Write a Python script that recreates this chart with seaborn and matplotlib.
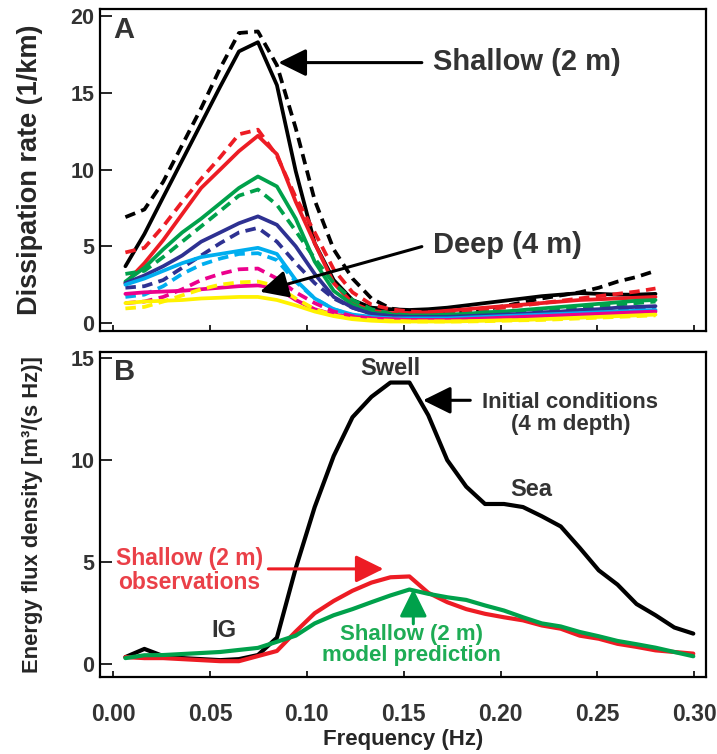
import numpy as np
import pandas as pd
import seaborn as sns
import matplotlib.pyplot as plt

# frequency bins (Hz)
freq_a = [0.0064, 0.0162, 0.0259, 0.0357, 0.0455, 0.0553, 0.0650, 0.0748, 0.0846, 0.0943,
          0.1041, 0.1139, 0.1236, 0.1334, 0.1432, 0.1530, 0.1627, 0.1725, 0.1823, 0.1920,
          0.2018, 0.2116, 0.2213, 0.2311, 0.2409, 0.2507, 0.2604, 0.2702, 0.2800]
freq_b = freq_a + [0.2897, 0.2995]

# Panel A: dissipation rate (1/km), solid = observed, dashed = model
black_obs = [3.7, 5.8, 8.2, 10.6, 13.0, 15.4, 17.7, 18.3, 15.5, 9.9, 5.2, 2.8, 1.5, 1.0, 0.9, 0.85,
             0.9, 1.0, 1.15, 1.3, 1.45, 1.6, 1.75, 1.85, 1.95, 1.9, 1.85, 1.85, 1.9]
black_mod = [6.9, 7.4, 9.2, 11.6, 14.0, 16.6, 18.9, 19.0, 16.8, 12.7, 8.0, 4.8, 2.9, 1.6, 0.95, 0.75,
             0.7, 0.7, 0.75, 0.9, 1.1, 1.35, 1.6, 1.8, 2.0, 2.3, 2.7, 3.0, 3.4]
red_obs = [2.6, 3.9, 5.4, 7.1, 8.8, 10.0, 11.2, 12.2, 11.0, 7.9, 5.2, 2.6, 1.3, 0.8, 0.65, 0.65,
           0.7, 0.8, 0.9, 1.0, 1.1, 1.2, 1.3, 1.4, 1.5, 1.55, 1.6, 1.65, 1.7]
red_mod = [4.6, 4.9, 6.3, 7.9, 9.4, 10.8, 12.3, 12.6, 10.9, 8.2, 5.9, 3.5, 2.0, 1.2, 0.9, 0.75,
           0.7, 0.7, 0.8, 0.9, 1.0, 1.15, 1.3, 1.45, 1.6, 1.75, 1.9, 2.05, 2.25]
green_obs = [2.7, 3.6, 4.8, 5.9, 6.8, 7.8, 8.8, 9.55, 8.9, 6.8, 4.0, 2.1, 1.2, 0.7, 0.55, 0.5,
             0.5, 0.55, 0.6, 0.7, 0.75, 0.85, 0.95, 1.05, 1.15, 1.25, 1.35, 1.45, 1.5]
green_mod = [3.2, 3.4, 4.3, 5.3, 6.3, 7.3, 8.3, 8.7, 7.7, 6.0, 4.2, 2.6, 1.5, 0.9, 0.6, 0.5,
             0.45, 0.45, 0.5, 0.55, 0.6, 0.7, 0.8, 0.9, 1.0, 1.1, 1.2, 1.3, 1.4]
navy_obs = [2.6, 3.1, 3.7, 4.4, 5.3, 5.9, 6.5, 6.95, 6.4, 5.0, 3.2, 1.7, 1.0, 0.6, 0.45, 0.4,
            0.4, 0.4, 0.45, 0.5, 0.55, 0.6, 0.7, 0.75, 0.85, 0.9, 1.0, 1.05, 1.1]
navy_mod = [2.3, 2.4, 2.8, 3.6, 4.4, 5.2, 5.9, 6.2, 5.3, 3.9, 2.6, 1.6, 1.0, 0.6, 0.45, 0.35,
            0.3, 0.3, 0.35, 0.4, 0.45, 0.5, 0.55, 0.6, 0.7, 0.75, 0.8, 0.9, 0.95]
cyan_obs = [2.5, 2.9, 3.4, 3.9, 4.3, 4.5, 4.7, 4.9, 4.5, 2.8, 1.6, 0.9, 0.55, 0.4, 0.3, 0.3,
            0.3, 0.3, 0.35, 0.4, 0.45, 0.5, 0.55, 0.6, 0.65, 0.7, 0.75, 0.8, 0.85]
cyan_mod = [1.7, 1.85, 2.4, 3.2, 3.8, 4.2, 4.5, 4.55, 4.1, 2.7, 1.6, 0.9, 0.5, 0.35, 0.3, 0.25,
            0.25, 0.25, 0.3, 0.35, 0.4, 0.45, 0.5, 0.55, 0.6, 0.65, 0.7, 0.75, 0.8]
pink_obs = [1.9, 2.0, 2.05, 2.1, 2.2, 2.3, 2.4, 2.45, 2.3, 1.5, 0.9, 0.55, 0.4, 0.3, 0.25, 0.2,
            0.2, 0.2, 0.25, 0.3, 0.35, 0.4, 0.45, 0.5, 0.55, 0.6, 0.65, 0.7, 0.75]
pink_mod = [1.3, 1.4, 1.7, 2.2, 2.8, 3.2, 3.5, 3.55, 2.9, 2.0, 1.3, 0.75, 0.45, 0.3, 0.2, 0.2,
            0.15, 0.15, 0.2, 0.25, 0.3, 0.35, 0.4, 0.45, 0.5, 0.55, 0.6, 0.65, 0.7]
yellow_obs = [1.3, 1.4, 1.45, 1.5, 1.6, 1.65, 1.7, 1.7, 1.5, 1.15, 0.75, 0.45, 0.25, 0.15, 0.1, 0.1,
              0.1, 0.1, 0.12, 0.15, 0.18, 0.2, 0.25, 0.3, 0.35, 0.4, 0.45, 0.5, 0.55]
yellow_mod = [0.95, 1.05, 1.4, 1.8, 2.2, 2.5, 2.65, 2.7, 2.4, 1.6, 0.9, 0.5, 0.3, 0.2, 0.15, 0.1,
              0.1, 0.1, 0.1, 0.12, 0.15, 0.18, 0.2, 0.25, 0.3, 0.35, 0.4, 0.45, 0.5]

# Panel B: energy flux density
flux_initial = [0.35, 0.75, 0.4, 0.3, 0.25, 0.2, 0.25, 0.45, 1.3, 4.7, 7.7, 10.2, 12.1, 13.1, 13.8, 13.8,
                12.2, 10.0, 8.7, 7.85, 7.85, 7.7, 7.25, 6.75, 5.7, 4.6, 3.9, 2.95, 2.4, 1.8, 1.5]
flux_obs = [0.35, 0.3, 0.3, 0.25, 0.2, 0.15, 0.15, 0.4, 0.65, 1.6, 2.5, 3.1, 3.6, 4.0, 4.26, 4.3,
            3.5, 3.04, 2.7, 2.47, 2.3, 2.15, 1.9, 1.74, 1.4, 1.25, 1.0, 0.85, 0.68, 0.6, 0.52]
flux_model = [0.3, 0.44, 0.45, 0.5, 0.55, 0.6, 0.7, 0.8, 1.1, 1.4, 2.0, 2.4, 2.7, 3.04, 3.37, 3.66,
              3.45, 3.28, 3.15, 2.88, 2.63, 2.3, 2.0, 1.85, 1.58, 1.37, 1.14, 0.98, 0.81, 0.6, 0.39]

sns.set_style("ticks")
plt.rcParams['font.family'] = ['Liberation Sans', 'DejaVu Sans']
plt.rcParams['font.weight'] = 'bold'

BLACK = '#000000'
RED = '#ed1c24'
GREEN = '#00a14b'
NAVY = '#2e3192'
CYAN = '#00aeef'
PINK = '#ec008c'
YELLOW = '#fff200'
GRAY = '#333333'

fig = plt.figure(figsize=(7.17, 7.54), dpi=100)
ax_a = fig.add_axes([0.1395, 0.561, 0.845, 0.427])
ax_b = fig.add_axes([0.1395, 0.102, 0.845, 0.431])

pairs = [(BLACK, black_obs, black_mod), (RED, red_obs, red_mod), (GREEN, green_obs, green_mod),
         (NAVY, navy_obs, navy_mod), (CYAN, cyan_obs, cyan_mod), (PINK, pink_obs, pink_mod),
         (YELLOW, yellow_obs, yellow_mod)]
for col, obs, mod in pairs:
    sns.lineplot(x=freq_a, y=obs, ax=ax_a, color=col, linewidth=2.7)
    sns.lineplot(x=freq_a, y=mod, ax=ax_a, color=col, linewidth=2.7, linestyle=(0, (2.8, 1.7)))

sns.lineplot(x=freq_b, y=flux_initial, ax=ax_b, color=BLACK, linewidth=3)
sns.lineplot(x=freq_b, y=flux_obs, ax=ax_b, color=RED, linewidth=3)
sns.lineplot(x=freq_b, y=flux_model, ax=ax_b, color=GREEN, linewidth=3)

for ax in (ax_a, ax_b):
    ax.set_xlim(-0.0067, 0.306)
    ax.set_xticks([0.0, 0.05, 0.10, 0.15, 0.20, 0.25, 0.30])
    for sp in ax.spines.values():
        sp.set_linewidth(1.6)
        sp.set_color('black')
    ax.tick_params(axis='y', direction='in', length=8.5, width=1.4, pad=4, labelsize=15.5,
                   labelcolor=GRAY)
    ax.tick_params(axis='x', direction='in', length=4.5, width=1.4)

ax_a.set_ylim(-0.52, 20.46)
ax_a.set_yticks([0, 5, 10, 15, 20])
ax_a.tick_params(axis='x', labelbottom=False)
ax_b.set_ylim(-0.63, 15.29)
ax_b.set_yticks([0, 5, 10, 15])
ax_b.set_xticklabels(['0.00', '0.05', '0.10', '0.15', '0.20', '0.25', '0.30'])
ax_b.tick_params(axis='x', pad=19, labelsize=16.5, labelcolor=GRAY)

ax_a.set_ylabel('Dissipation rate (1/km)', fontsize=19.5, fontweight='bold', labelpad=20)
ax_b.set_ylabel('Energy flux density [m³/(s Hz)]', fontsize=15.8, fontweight='bold', labelpad=20)
ax_b.set_xlabel('Frequency (Hz)', fontsize=16, fontweight='bold', labelpad=2)
fig.align_ylabels([ax_a, ax_b])

# panel A annotations
ax_a.text(0.04, 0.935, 'A', transform=ax_a.transAxes, fontsize=21, fontweight='bold',
          color=GRAY, ha='center', va='center')
arrow_kw = dict(arrowstyle='-|>,head_length=0.85,head_width=0.42', color='black', lw=2.2,
                mutation_scale=20, shrinkA=0, shrinkB=0)
ax_a.annotate('', xy=(0.0854, 16.97), xytext=(0.1594, 16.97), arrowprops=arrow_kw)
ax_a.text(0.1653, 17.0, 'Shallow (2 m)', fontsize=21, fontweight='bold', color=GRAY,
          ha='left', va='center')
ax_a.annotate('', xy=(0.0759, 2.04), xytext=(0.1594, 4.98), arrowprops=arrow_kw)
ax_a.text(0.1653, 5.1, 'Deep (4 m)', fontsize=21, fontweight='bold', color=GRAY,
          ha='left', va='center')

# panel B annotations
ax_b.text(0.04, 0.94, 'B', transform=ax_b.transAxes, fontsize=21, fontweight='bold',
          color=GRAY, ha='center', va='center')
ax_b.text(0.143, 14.5, 'Swell', fontsize=17, fontweight='bold', color=GRAY, ha='center', va='center')
ax_b.text(0.2161, 8.57, 'Sea', fontsize=17, fontweight='bold', color=GRAY, ha='center', va='center')
ax_b.text(0.057, 1.66, 'IG', fontsize=17, fontweight='bold', color=GRAY, ha='center', va='center')
ax_b.annotate('', xy=(0.16, 12.93), xytext=(0.1844, 12.93), arrowprops=arrow_kw)
ax_b.text(0.236, 12.3, 'Initial conditions\n(4 m depth)', fontsize=16, fontweight='bold',
          color=GRAY, ha='center', va='center', linespacing=1.05)

red_kw = dict(arrow_kw, color=RED)
ax_b.annotate('', xy=(0.1396, 4.67), xytext=(0.0802, 4.67), arrowprops=red_kw)
ax_b.text(0.0393, 4.58, 'Shallow (2 m)\nobservations', fontsize=16.5, fontweight='bold',
          color='#ea4048', ha='center', va='center', linespacing=1.05)

green_kw = dict(arrow_kw, color=GREEN)
ax_b.annotate('', xy=(0.155, 3.69), xytext=(0.155, 1.98), arrowprops=green_kw)
ax_b.text(0.154, 0.93, 'Shallow (2 m)\nmodel prediction', fontsize=16, fontweight='bold',
          color='#1eac55', ha='center', va='center', linespacing=1.0)

fig.savefig('out.png', dpi=100)
